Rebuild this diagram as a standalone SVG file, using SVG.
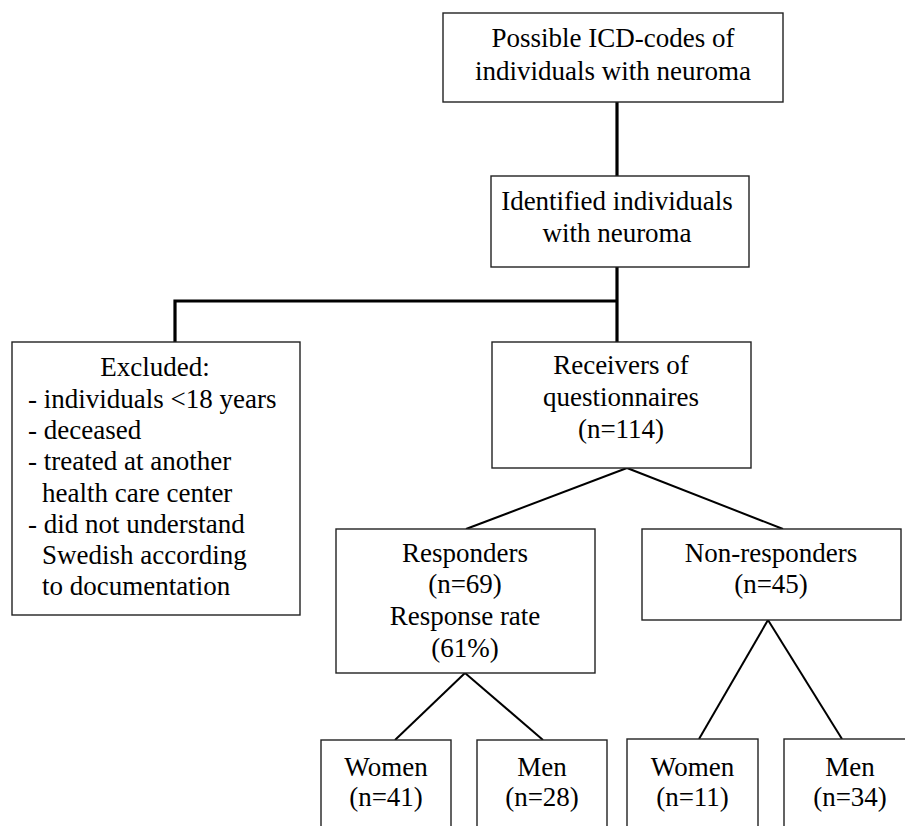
<svg xmlns="http://www.w3.org/2000/svg" width="905" height="826" viewBox="0 0 905 826">
<style>
.box{fill:#fff;stroke:#222;stroke-width:1.4}
.t{font-family:"Liberation Serif","Times New Roman",serif;font-size:27px;fill:#000}
.c{text-anchor:middle}
.thick{stroke:#000;stroke-width:3.2;fill:none}
.thin{stroke:#000;stroke-width:2;fill:none}
</style>
<rect width="905" height="826" fill="#fff"/>
<g id="connectors">
<line class="thick" x1="617" y1="102" x2="617" y2="176"/>
<line class="thick" x1="617" y1="267" x2="617" y2="342"/>
<polyline class="thick" points="175,342 175,301 617,301"/>
<line class="thin" x1="627" y1="468" x2="466" y2="529"/>
<line class="thin" x1="627" y1="468" x2="783" y2="529"/>
<line class="thin" x1="465" y1="673" x2="395" y2="740"/>
<line class="thin" x1="465" y1="673" x2="543" y2="740"/>
<line class="thin" x1="768" y1="620" x2="699" y2="739"/>
<line class="thin" x1="768" y1="620" x2="842" y2="739"/>
</g>
<g id="n-icd">
<rect class="box" x="443" y="13" width="340" height="89"/>
<text class="t c" x="613" y="47">Possible ICD-codes of</text>
<text class="t c" x="613" y="80">individuals with neuroma</text>
</g>
<g id="n-identified">
<rect class="box" x="491" y="176" width="258" height="91"/>
<text class="t c" x="617" y="210">Identified individuals</text>
<text class="t c" x="617" y="242">with neuroma</text>
</g>
<g id="n-excluded">
<rect class="box" x="12" y="342" width="288" height="273"/>
<text class="t c" x="155" y="376">Excluded:</text>
<text class="t" x="28" y="407.5">- individuals &lt;18 years</text>
<text class="t" x="28" y="439">- deceased</text>
<text class="t" x="28" y="470">- treated at another</text>
<text class="t" x="42" y="501.5">health care center</text>
<text class="t" x="28" y="533">- did not understand</text>
<text class="t" x="42" y="564">Swedish according</text>
<text class="t" x="42" y="595">to documentation</text>
</g>
<g id="n-receivers">
<rect class="box" x="492" y="342" width="259" height="126"/>
<text class="t c" x="621" y="374">Receivers of</text>
<text class="t c" x="621" y="406">questionnaires</text>
<text class="t c" x="621" y="438">(n=114)</text>
</g>
<g id="n-responders">
<rect class="box" x="336" y="529" width="259" height="144"/>
<text class="t c" x="465" y="562">Responders</text>
<text class="t c" x="465" y="593">(n=69)</text>
<text class="t c" x="465" y="625">Response rate</text>
<text class="t c" x="465" y="657">(61%)</text>
</g>
<g id="n-nonresponders">
<rect class="box" x="642" y="529" width="259" height="91"/>
<text class="t c" x="771" y="562">Non-responders</text>
<text class="t c" x="771" y="593">(n=45)</text>
</g>
<g id="n-women1">
<rect class="box" x="321" y="740" width="130" height="100"/>
<text class="t c" x="386" y="776">Women</text>
<text class="t c" x="386" y="806">(n=41)</text>
</g>
<g id="n-men1">
<rect class="box" x="477" y="740" width="130" height="100"/>
<text class="t c" x="542" y="776">Men</text>
<text class="t c" x="542" y="806">(n=28)</text>
</g>
<g id="n-women2">
<rect class="box" x="627" y="739" width="131" height="100"/>
<text class="t c" x="692.5" y="776">Women</text>
<text class="t c" x="692.5" y="806">(n=11)</text>
</g>
<g id="n-men2">
<rect class="box" x="784" y="739" width="132" height="100"/>
<text class="t c" x="850" y="776">Men</text>
<text class="t c" x="850" y="806">(n=34)</text>
</g>
</svg>
